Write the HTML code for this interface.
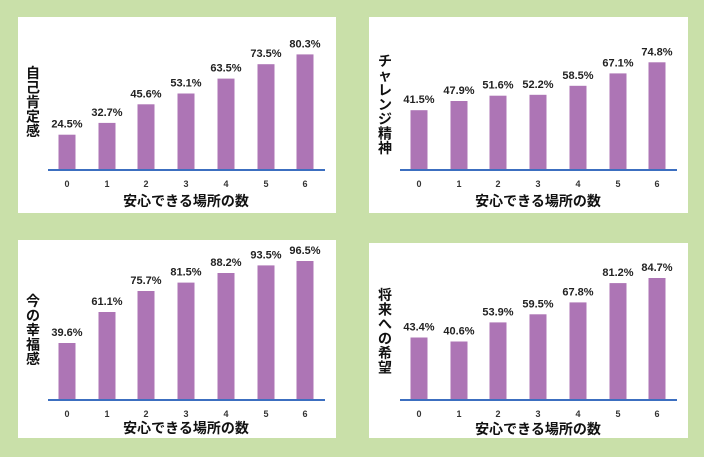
<!DOCTYPE html>
<html><head><meta charset="utf-8"><style>
html,body{margin:0;padding:0;background:#fff;}
svg{display:block;font-family:"Liberation Sans","Noto Sans CJK JP",sans-serif;}
.b{fill:#ad75b5}
.v{font-size:11px;font-weight:bold;fill:#222;text-anchor:middle}
.k{font-size:9px;font-weight:bold;fill:#333;text-anchor:middle}
.x{font-size:14px;font-weight:bold;fill:#111;text-anchor:middle}
.y{font-size:14px;font-weight:bold;fill:#111;text-anchor:middle}
</style></head><body>
<svg width="708" height="457" viewBox="0 0 708 457" xmlns="http://www.w3.org/2000/svg">
<rect x="0" y="0" width="704" height="457" fill="#c9e0a9"/>
<rect x="704" y="0" width="4" height="457" fill="#fff"/>
<rect x="18" y="17" width="318" height="196" fill="#fff"/>
<rect x="369" y="17" width="319" height="196" fill="#fff"/>
<rect x="18" y="240" width="318" height="198" fill="#fff"/>
<rect x="369" y="243" width="319" height="195" fill="#fff"/>

<!-- Panel 1 -->
<g>
<rect class="b" x="58.5" y="134.7" width="17" height="35.3"/>
<rect class="b" x="98.5" y="122.9" width="17" height="47.1"/>
<rect class="b" x="137.5" y="104.3" width="17" height="65.7"/>
<rect class="b" x="177.5" y="93.5" width="17" height="76.5"/>
<rect class="b" x="217.5" y="78.6" width="17" height="91.4"/>
<rect class="b" x="257.5" y="64.2" width="17" height="105.8"/>
<rect class="b" x="296.5" y="54.4" width="17" height="115.6"/>
<text class="v" x="67" y="127.7">24.5%</text>
<text class="v" x="107" y="115.9">32.7%</text>
<text class="v" x="146" y="97.3">45.6%</text>
<text class="v" x="186" y="86.5">53.1%</text>
<text class="v" x="226" y="71.6">63.5%</text>
<text class="v" x="266" y="57.2">73.5%</text>
<text class="v" x="305" y="47.4">80.3%</text>
<rect x="48" y="169" width="277" height="2" fill="#3c6fc0"/>
<text class="k" x="67" y="187">0</text><text class="k" x="107" y="187">1</text><text class="k" x="146" y="187">2</text><text class="k" x="186" y="187">3</text><text class="k" x="226" y="187">4</text><text class="k" x="266" y="187">5</text><text class="k" x="305" y="187">6</text>
<text class="x" x="186" y="206">安心できる場所の数</text>
<text class="y" x="33" y="78">自</text><text class="y" x="33" y="92.5">己</text><text class="y" x="33" y="107">肯</text><text class="y" x="33" y="121.5">定</text><text class="y" x="33" y="136">感</text>
</g>

<!-- Panel 2 -->
<g>
<rect class="b" x="410.5" y="110.2" width="17" height="59.8"/>
<rect class="b" x="450.5" y="101" width="17" height="69"/>
<rect class="b" x="489.5" y="95.7" width="17" height="74.3"/>
<rect class="b" x="529.5" y="94.8" width="17" height="75.2"/>
<rect class="b" x="569.5" y="85.8" width="17" height="84.2"/>
<rect class="b" x="609.5" y="73.4" width="17" height="96.6"/>
<rect class="b" x="648.5" y="62.3" width="17" height="107.7"/>
<text class="v" x="419" y="103.2">41.5%</text>
<text class="v" x="459" y="94">47.9%</text>
<text class="v" x="498" y="88.7">51.6%</text>
<text class="v" x="538" y="87.8">52.2%</text>
<text class="v" x="578" y="78.8">58.5%</text>
<text class="v" x="618" y="66.4">67.1%</text>
<text class="v" x="657" y="55.3">74.8%</text>
<rect x="400" y="169" width="277" height="2" fill="#3c6fc0"/>
<text class="k" x="419" y="187">0</text><text class="k" x="459" y="187">1</text><text class="k" x="498" y="187">2</text><text class="k" x="538" y="187">3</text><text class="k" x="578" y="187">4</text><text class="k" x="618" y="187">5</text><text class="k" x="657" y="187">6</text>
<text class="x" x="538" y="206">安心できる場所の数</text>
<text class="y" x="385" y="66">チ</text><text class="y" x="385" y="80.5">ャ</text><text class="y" x="385" y="95">レ</text><text class="y" x="385" y="109.5">ン</text><text class="y" x="385" y="124">ジ</text><text class="y" x="385" y="138.5">精</text><text class="y" x="385" y="153">神</text>
</g>

<!-- Panel 3 -->
<g>
<rect class="b" x="58.5" y="343" width="17" height="57"/>
<rect class="b" x="98.5" y="312" width="17" height="88"/>
<rect class="b" x="137.5" y="291" width="17" height="109"/>
<rect class="b" x="177.5" y="282.6" width="17" height="117.4"/>
<rect class="b" x="217.5" y="273" width="17" height="127"/>
<rect class="b" x="257.5" y="265.4" width="17" height="134.6"/>
<rect class="b" x="296.5" y="261" width="17" height="139"/>
<text class="v" x="67" y="336">39.6%</text>
<text class="v" x="107" y="305">61.1%</text>
<text class="v" x="146" y="284">75.7%</text>
<text class="v" x="186" y="275.6">81.5%</text>
<text class="v" x="226" y="266">88.2%</text>
<text class="v" x="266" y="258.4">93.5%</text>
<text class="v" x="305" y="254">96.5%</text>
<rect x="48" y="399" width="277" height="2" fill="#3c6fc0"/>
<text class="k" x="67" y="417">0</text><text class="k" x="107" y="417">1</text><text class="k" x="146" y="417">2</text><text class="k" x="186" y="417">3</text><text class="k" x="226" y="417">4</text><text class="k" x="266" y="417">5</text><text class="k" x="305" y="417">6</text>
<text class="x" x="186" y="433">安心できる場所の数</text>
<text class="y" x="33" y="306">今</text><text class="y" x="33" y="320.5">の</text><text class="y" x="33" y="335">幸</text><text class="y" x="33" y="349.5">福</text><text class="y" x="33" y="364">感</text>
</g>

<!-- Panel 4 -->
<g>
<rect class="b" x="410.5" y="337.5" width="17" height="62.5"/>
<rect class="b" x="450.5" y="341.5" width="17" height="58.5"/>
<rect class="b" x="489.5" y="322.4" width="17" height="77.6"/>
<rect class="b" x="529.5" y="314.3" width="17" height="85.7"/>
<rect class="b" x="569.5" y="302.4" width="17" height="97.6"/>
<rect class="b" x="609.5" y="283.1" width="17" height="116.9"/>
<rect class="b" x="648.5" y="278" width="17" height="122"/>
<text class="v" x="419" y="330.5">43.4%</text>
<text class="v" x="459" y="334.5">40.6%</text>
<text class="v" x="498" y="315.4">53.9%</text>
<text class="v" x="538" y="307.3">59.5%</text>
<text class="v" x="578" y="295.4">67.8%</text>
<text class="v" x="618" y="276.1">81.2%</text>
<text class="v" x="657" y="271">84.7%</text>
<rect x="400" y="399" width="277" height="2" fill="#3c6fc0"/>
<text class="k" x="419" y="417">0</text><text class="k" x="459" y="417">1</text><text class="k" x="498" y="417">2</text><text class="k" x="538" y="417">3</text><text class="k" x="578" y="417">4</text><text class="k" x="618" y="417">5</text><text class="k" x="657" y="417">6</text>
<text class="x" x="538" y="434">安心できる場所の数</text>
<text class="y" x="385" y="300">将</text><text class="y" x="385" y="314.5">来</text><text class="y" x="385" y="329">へ</text><text class="y" x="385" y="343.5">の</text><text class="y" x="385" y="358">希</text><text class="y" x="385" y="372.5">望</text>
</g>
</svg>
</body></html>
